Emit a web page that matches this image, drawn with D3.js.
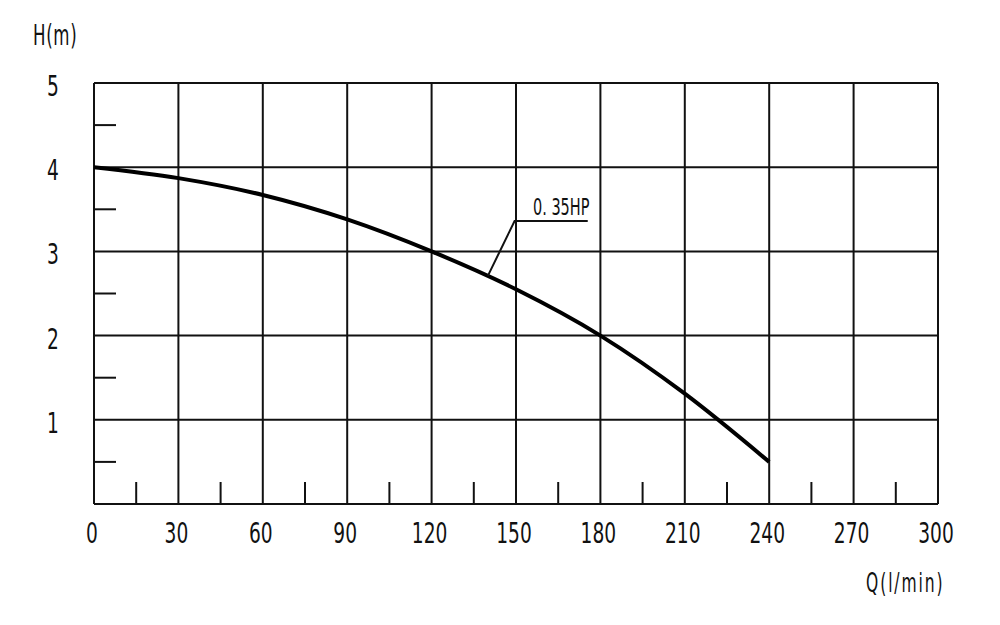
<!DOCTYPE html>
<html>
<head>
<meta charset="utf-8">
<script src="https://cdn.jsdelivr.net/npm/d3@7"></script>
<style>
  html, body { margin: 0; padding: 0; background: #fff; }
  svg { display: block; }
  text { font-family: "Liberation Sans Narrow", "DejaVu Sans Condensed", sans-serif; fill: #111; }
</style>
</head>
<body>
<svg id="chart" width="1000" height="625"></svg>
<script>
// ---- data ----
const flowQ = [0, 30, 60, 90, 120, 150, 180, 210, 240];          // l/min
const headH = [4.0, 3.87, 3.67, 3.38, 3.0, 2.55, 2.0, 1.31, 0.5]; // m
const xTicks = [0, 30, 60, 90, 120, 150, 180, 210, 240, 270, 300];
const yTicks = [1, 2, 3, 4, 5];
const xMinor = [15, 45, 75, 105, 135, 165, 195, 225, 255, 285];
const yMinor = [0.5, 1.5, 2.5, 3.5, 4.5];
const seriesLabel = "0. 35HP";
const labelAnchor = [140, 149.5, 3.36, 175.5]; // q on curve, elbow q, elbow h, end q
const xTitle = "Q(l/min)";
const yTitle = "H(m)";

// ---- layout ----
const svg = d3.select("#chart");
const L = 94, R = 938, T = 83, B = 504;
const x = d3.scaleLinear().domain([0, 300]).range([L, R]);
const y = d3.scaleLinear().domain([0, 5]).range([B, T]);

function ctext(px, py, str, size, anchor, sx, spacing) {
  svg.append("text")
    .attr("transform", `translate(${px},${py}) scale(${sx || 0.74},1)`)
    .attr("text-anchor", anchor || "middle")
    .attr("font-size", size)
    .attr("letter-spacing", spacing || 0)
    .text(str);
}

// grid
const g = svg.append("g").attr("stroke", "#111").attr("stroke-width", 2).attr("fill", "none");
xTicks.forEach(v => g.append("line").attr("x1", x(v)).attr("x2", x(v)).attr("y1", T).attr("y2", B));
yTicks.forEach(v => g.append("line").attr("x1", L).attr("x2", R).attr("y1", y(v)).attr("y2", y(v)));
g.append("line").attr("x1", L).attr("x2", R).attr("y1", B).attr("y2", B);
// minor ticks
xMinor.forEach(v => g.append("line").attr("x1", x(v)).attr("x2", x(v)).attr("y1", B).attr("y2", B - 22));
yMinor.forEach(v => g.append("line").attr("x1", L).attr("x2", L + 22).attr("y1", y(v)).attr("y2", y(v)));

// tick labels
xTicks.forEach(v => ctext(x(v) - 2, 543, String(v), 28));
yTicks.forEach(v => ctext(53, y(v) + 13, String(v), 28));

// titles
ctext(33, 45, yTitle, 28, "start", 0.66, 1);
ctext(866, 592, xTitle, 27, "start", 0.64, 3);

// curve
const pts = flowQ.map((q, i) => [q, headH[i]]);
const line = d3.line().x(d => x(d[0])).y(d => y(d[1])).curve(d3.curveMonotoneX);
const curvePath = svg.append("path").datum(pts).attr("d", line)
  .attr("fill", "none").attr("stroke", "#000").attr("stroke-width", 4);

// annotation leader
const aq = labelAnchor[0];
const ah = (function () {
  const path = curvePath.node();
  const len = path.getTotalLength();
  let lo = 0, hi = len;
  for (let k = 0; k < 40; k++) {
    const mid = (lo + hi) / 2;
    if (path.getPointAtLength(mid).x < x(aq)) lo = mid; else hi = mid;
  }
  return y.invert(path.getPointAtLength(lo).y);
})();
svg.append("polyline")
  .attr("points", [[x(aq), y(ah)], [x(labelAnchor[1]), y(labelAnchor[2])], [x(labelAnchor[3]), y(labelAnchor[2])]].map(p => p.join(",")).join(" "))
  .attr("fill", "none").attr("stroke", "#111").attr("stroke-width", 2);
ctext(533, 215, seriesLabel, 23, "start", 0.7);
</script>
</body>
</html>
